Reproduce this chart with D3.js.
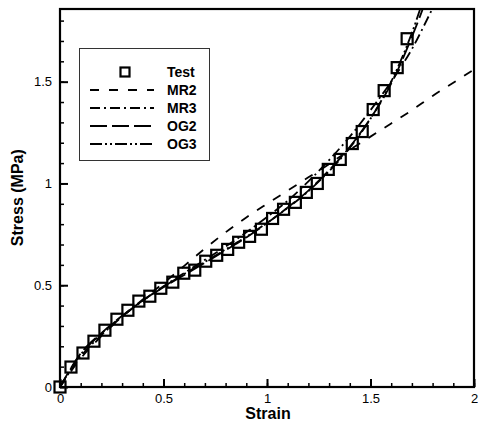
<!DOCTYPE html>
<html lang="en">
<head>
	<meta charset="utf-8" />
	<title>Stress vs strain</title>
	<script src="https://d3js.org/d3.v7.min.js"></script>
	<style>
	body {
		margin: 0;
		background: white;
	}
	svg {
		display: block;
		font-family: "Liberation Sans", Arial, sans-serif;
	}
	.tick text {
		font-size: 13px;
		fill: black;
	}
	.axis-title {
		font-size: 16px;
		font-weight: bold;
	}
	.legend text {
		font-size: 14px;
		font-weight: bold;
	}
	</style>
</head>
<body>
	<svg width="478" height="425"></svg>
<script>

//	test data (strain, stress in MPa)
var testStrain = [0, 0.053, 0.111, 0.164, 0.217, 0.275, 0.328, 0.381, 0.434, 0.487,
	0.545, 0.598, 0.651, 0.704, 0.757, 0.810, 0.863, 0.916, 0.973, 1.027,
	1.080, 1.137, 1.190, 1.243, 1.296, 1.354, 1.412, 1.460, 1.513, 1.566,
	1.629, 1.677];
var testStress = [0, 0.098, 0.167, 0.225, 0.279, 0.333, 0.377, 0.422, 0.446, 0.485,
	0.515, 0.559, 0.574, 0.618, 0.647, 0.676, 0.711, 0.740, 0.775, 0.828,
	0.873, 0.907, 0.956, 1.0, 1.069, 1.118, 1.196, 1.255, 1.363, 1.456,
	1.569, 1.711];

//	model curves, sampled every 0.1 strain
var modelStrain = [0, 0.1, 0.2, 0.3, 0.4, 0.5, 0.6, 0.7, 0.8, 0.9, 1.0,
	1.1, 1.2, 1.3, 1.4, 1.5, 1.6, 1.7, 1.8, 1.9, 2.0];
var mr2 = [0, 0.14, 0.25, 0.345, 0.43, 0.51, 0.595, 0.68, 0.76, 0.833, 0.9,
	0.965, 1.03, 1.095, 1.165, 1.23, 1.295, 1.36, 1.43, 1.495, 1.56];
var mr3 = [0, 0.15, 0.255, 0.345, 0.425, 0.495, 0.56, 0.625, 0.69, 0.76, 0.835,
	0.915, 1.01, 1.115, 1.23, 1.36, 1.5, 1.66, 1.86, 2.06, 2.3];
var og2 = [0, 0.165, 0.265, 0.35, 0.425, 0.49, 0.55, 0.61, 0.672, 0.735, 0.805,
	0.882, 0.965, 1.065, 1.18, 1.32, 1.49, 1.72, 1.99, 2.3, 2.6];
var og3 = [0, 0.16, 0.262, 0.348, 0.424, 0.492, 0.555, 0.615, 0.676, 0.738, 0.806,
	0.88, 0.962, 1.06, 1.175, 1.318, 1.5, 1.74, 2.05, 2.4, 2.7];

var seriesNames = ["MR2", "MR3", "OG2", "OG3"];
var seriesValues = [mr2, mr3, og2, og3];
var seriesDash = ["9,10", "10,4,2,4", "17,5", "12,3,2,3,2,3"];

var xTicks = [0, 0.5, 1, 1.5, 2];
var yTicks = [0, 0.5, 1, 1.5];

//	svg selection and sizing
var svg = d3.select("svg"),
	margin = {top: 9, right: 4, bottom: 38, left: 60},
	width = +svg.attr("width") - margin.left - margin.right,
	height = +svg.attr("height") - margin.top - margin.bottom;

var x = d3.scaleLinear().domain([0, 2]).range([0, width]);
var y = d3.scaleLinear().domain([0, 1.857]).range([height, 0]);

var g = svg.append("g")
	.attr("transform", "translate(" + margin.left + "," + margin.top + ")");

g.append("clipPath")
	.attr("id", "clip")
	.append("rect")
	.attr("width", width)
	.attr("height", height);

//	minor ticks
g.append("g")
	.attr("transform", "translate(0," + height + ")")
	.call(d3.axisBottom(x).tickValues(d3.range(0, 2.001, 0.1)).tickSize(-4).tickFormat(""))
	.call(function(a) { a.select(".domain").remove(); })
	.selectAll("line").attr("stroke-width", 1.5);

g.append("g")
	.call(d3.axisLeft(y).tickValues(d3.range(0, 1.85, 0.1)).tickSize(-4).tickFormat(""))
	.call(function(a) { a.select(".domain").remove(); })
	.selectAll("line").attr("stroke-width", 1.5);

//	major ticks
var xAxis = g.append("g")
	.attr("transform", "translate(0," + height + ")")
	.call(d3.axisBottom(x).tickValues(xTicks).tickSize(-8).tickPadding(7)
		.tickFormat(function(d) { return String(d); }));
xAxis.select(".domain").remove();
xAxis.selectAll("line").attr("stroke-width", 2);

var yAxis = g.append("g")
	.call(d3.axisLeft(y).tickValues(yTicks).tickSize(-8).tickPadding(8)
		.tickFormat(function(d) { return String(d); }));
yAxis.select(".domain").remove();
yAxis.selectAll("line").attr("stroke-width", 2);

//	model lines
var line = d3.line()
	.x(function(d) { return x(d[0]); })
	.y(function(d) { return y(d[1]); })
	.curve(d3.curveMonotoneX);

var lines = g.append("g").attr("clip-path", "url(#clip)");
seriesValues.forEach(function(vals, i) {
	lines.append("path")
		.datum(modelStrain.map(function(s, j) { return [s, vals[j]]; }))
		.attr("fill", "none")
		.attr("stroke", "black")
		.attr("stroke-width", 1.8)
		.attr("stroke-dasharray", seriesDash[i])
		.attr("d", line);
});

//	test markers
var markerSize = 11;
g.append("g").selectAll("rect")
	.data(testStrain.map(function(s, j) { return [s, testStress[j]]; }))
	.enter().append("rect")
	.attr("x", function(d) { return x(d[0]) - markerSize / 2; })
	.attr("y", function(d) { return y(d[1]) - markerSize / 2; })
	.attr("width", markerSize)
	.attr("height", markerSize)
	.attr("fill", "none")
	.attr("stroke", "black")
	.attr("stroke-width", 2.2);

//	frame
g.append("rect")
	.attr("width", width)
	.attr("height", height)
	.attr("fill", "none")
	.attr("stroke", "black")
	.attr("stroke-width", 2.2);

//	axis titles
svg.append("text")
	.attr("class", "axis-title")
	.attr("x", margin.left + width / 2 + 1)
	.attr("y", 419)
	.attr("text-anchor", "middle")
	.text("Strain");

svg.append("text")
	.attr("class", "axis-title")
	.attr("transform", "translate(23," + (margin.top + y(0.93)) + ") rotate(-90)")
	.attr("text-anchor", "middle")
	.text("Stress (MPa)");

//	legend
var legend = svg.append("g").attr("class", "legend");
legend.append("rect")
	.attr("x", 79.5)
	.attr("y", 48.5)
	.attr("width", 130)
	.attr("height", 112)
	.attr("fill", "white")
	.attr("stroke", "#333")
	.attr("stroke-width", 1);

var legendY = [72, 90, 108, 126, 144];

legend.append("rect")
	.attr("x", 125 - 4.5)
	.attr("y", legendY[0] - 4.5)
	.attr("width", 9)
	.attr("height", 9)
	.attr("fill", "none")
	.attr("stroke", "black")
	.attr("stroke-width", 2.2);
legend.append("text")
	.attr("x", 167)
	.attr("y", legendY[0] + 5)
	.text("Test");

seriesNames.forEach(function(name, i) {
	legend.append("line")
		.attr("x1", 90)
		.attr("x2", 154)
		.attr("y1", legendY[i + 1])
		.attr("y2", legendY[i + 1])
		.attr("stroke", "black")
		.attr("stroke-width", 2)
		.attr("stroke-dasharray", seriesDash[i]);
	legend.append("text")
		.attr("x", 167)
		.attr("y", legendY[i + 1] + 5)
		.text(name);
});

</script>
</body>
</html>
